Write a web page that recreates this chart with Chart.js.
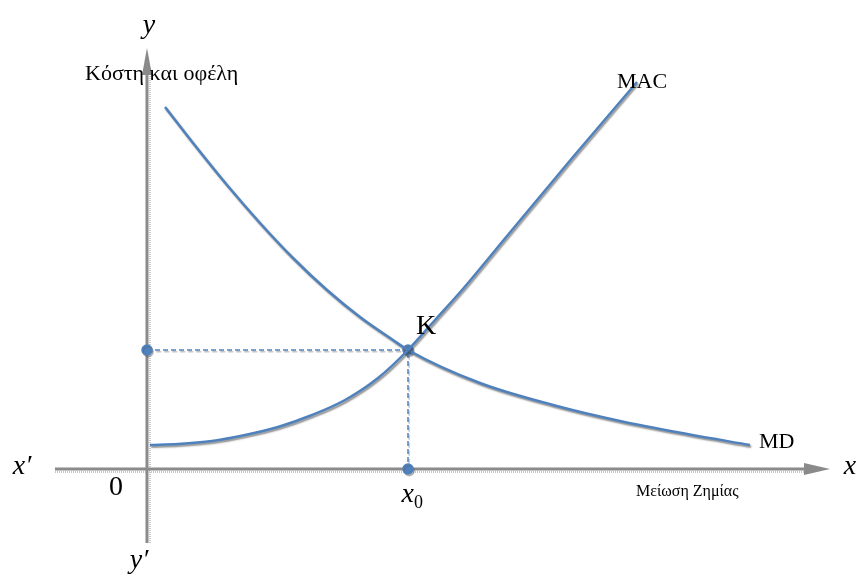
<!DOCTYPE html>
<html>
<head>
<meta charset="utf-8">
<script src="https://cdn.jsdelivr.net/npm/chart.js@4"></script>
<style>
  html, body { margin: 0; padding: 0; background: #fff; }
  #wrap { width: 858px; height: 576px; position: relative; }
</style>
</head>
<body>
<div id="wrap"><canvas id="chart"></canvas></div>
<script>
// curve values (x = damage reduction, y = costs/benefits)
const macX = [0.3, 3.1, 6.5, 9.8, 13.1, 16.5, 19.8, 23.1, 26.1, 28.8, 31.5, 36.0, 42.6, 49.0];
const macY = [2.4, 2.5, 2.8, 3.4, 4.2, 5.4, 6.9, 9.1, 11.9, 14.9, 17.9, 23.3, 31.2, 38.7];
const mdX = [1.8, 4.6, 8.0, 11.3, 14.6, 18.0, 21.3, 24.6, 26.1, 33.3, 40.6, 47.3, 54.0, 60.3];
const mdY = [36.2, 32.6, 28.4, 24.6, 21.1, 17.9, 15.2, 12.9, 11.9, 8.6, 6.4, 4.8, 3.5, 2.4];
// equilibrium K
const eqX = 26.1;
const eqY = 11.9;

const blue = '#4f81bd';

function pts(xs, ys) {
    return xs.map((x, i) => ({ x: x, y: ys[i] }));
}

// soft gray shadow under the lines, like the original drawing
const shadowPlugin = {
    id: 'shadow',
    beforeDatasetDraw(chart, args) {
        const c = chart.ctx;
        c.save();
        const light = args.index === 2;
        c.shadowColor = light ? 'rgba(90,90,90,0.35)' : 'rgba(60,60,60,0.55)';
        c.shadowOffsetX = 1.2;
        c.shadowOffsetY = 1.8;
        c.shadowBlur = light ? 0.5 : 1.5;
    },
    afterDatasetDraw(chart) {
        chart.ctx.restore();
    }
};

// axes arrows and text labels
const axesPlugin = {
    id: 'axes',
    beforeDatasetsDraw(chart) {
        const c = chart.ctx;
        const xs = chart.scales.x, ys = chart.scales.y;
        const x0 = xs.getPixelForValue(0), y0 = ys.getPixelForValue(0);
        const left = xs.getPixelForValue(-9.2), right = xs.getPixelForValue(68.3);
        const top = ys.getPixelForValue(42.1), bottom = ys.getPixelForValue(-7.4);

        c.save();
        // dotted light shadow
        c.strokeStyle = '#c8c8c8';
        c.lineWidth = 2;
        c.setLineDash([1, 1]);
        c.beginPath();
        c.moveTo(left, y0 + 3); c.lineTo(right - 20, y0 + 3);
        c.moveTo(x0 + 3, top + 20); c.lineTo(x0 + 3, bottom);
        c.stroke();
        c.setLineDash([]);

        c.strokeStyle = '#8a8a8a';
        c.fillStyle = '#8a8a8a';
        c.lineWidth = 3;
        c.beginPath();
        c.moveTo(left, y0); c.lineTo(right - 22, y0);
        c.moveTo(x0, top + 24); c.lineTo(x0, bottom);
        c.stroke();
        // arrow heads
        c.beginPath();
        c.moveTo(right, y0); c.lineTo(right - 26, y0 - 6); c.lineTo(right - 26, y0 + 6);
        c.closePath(); c.fill();
        c.beginPath();
        c.moveTo(x0, top); c.lineTo(x0 - 5, top + 27); c.lineTo(x0 + 5, top + 27);
        c.closePath(); c.fill();
        c.restore();
    },
    afterDatasetsDraw(chart) {
        const c = chart.ctx;
        const xs = chart.scales.x, ys = chart.scales.y;
        const px = v => xs.getPixelForValue(v), py = v => ys.getPixelForValue(v);
        const x0 = px(0), y0 = py(0);
        c.save();
        c.fillStyle = '#000';
        c.textBaseline = 'middle';

        c.font = 'italic 28px "Liberation Serif"';
        c.textAlign = 'center';
        c.fillText('y', x0 + 2, 26);
        c.fillText('y\u2032', x0 - 8, 561);
        c.fillText('x\u2032', 22, y0 - 2);
        c.fillText('x', 850, y0 - 2);

        c.font = '28px "Liberation Serif"';
        c.fillText('0', x0 - 31, y0 + 19);

        // x0 label
        c.font = 'italic 28px "Liberation Serif"';
        c.textAlign = 'right';
        c.fillText('x', px(eqX) + 6, y0 + 26);
        c.font = '18px "Liberation Serif"';
        c.textAlign = 'left';
        c.fillText('0', px(eqX) + 6, y0 + 34);

        c.textAlign = 'left';
        c.font = '28px "Liberation Serif"';
        c.fillText('K', px(eqX) + 8, py(eqY) - 23);

        c.font = '22px "Liberation Serif"';
        c.fillText('MAC', 617, 82);
        c.fillText('MD', 759, 442);

        c.font = '22px "Liberation Serif"';
        c.fillText('Κόστη και οφέλη', 85, 74);
        c.font = '16px "Liberation Serif"';
        c.fillText('Μείωση Ζημίας', 636, 492);
        c.restore();
    }
};

new Chart(document.getElementById('chart'), {
    type: 'scatter',
    data: {
        datasets: [
            {
                label: 'MAC',
                data: pts(macX, macY),
                showLine: true,
                borderColor: blue,
                borderWidth: 2.5,
                pointRadius: 0,
                cubicInterpolationMode: 'monotone'
            },
            {
                label: 'MD',
                data: pts(mdX, mdY),
                showLine: true,
                borderColor: blue,
                borderWidth: 2.5,
                pointRadius: 0,
                cubicInterpolationMode: 'monotone'
            },
            {
                label: 'K',
                data: [{ x: 0, y: eqY }, { x: eqX, y: eqY }, { x: eqX, y: 0 }],
                showLine: true,
                borderColor: blue,
                borderWidth: 1.5,
                borderDash: [5, 3],
                pointRadius: 5,
                pointBackgroundColor: blue,
                pointBorderColor: blue,
                tension: 0
            }
        ]
    },
    options: {
        responsive: true,
        maintainAspectRatio: false,
        animation: false,
        layout: { padding: 0, autoPadding: false },
        plugins: {
            legend: { display: false },
            tooltip: { enabled: false }
        },
        scales: {
            x: { type: 'linear', min: -14.7, max: 71.1, display: false },
            y: { type: 'linear', min: -10.7, max: 46.9, display: false }
        }
    },
    plugins: [axesPlugin, shadowPlugin]
});
</script>
</body>
</html>
